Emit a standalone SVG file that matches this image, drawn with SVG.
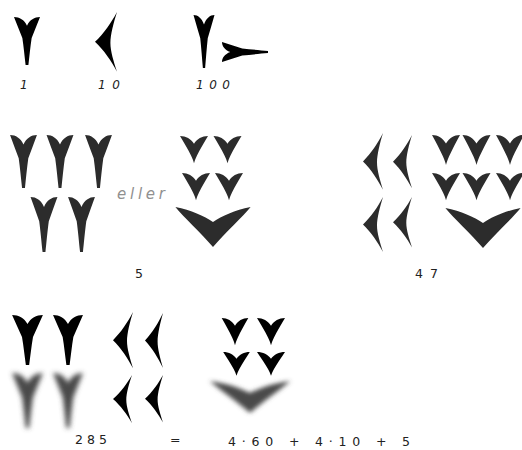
<svg xmlns="http://www.w3.org/2000/svg" xmlns:xlink="http://www.w3.org/1999/xlink" width="522" height="450" viewBox="0 0 522 450">
<style>
.lbl{font-family:"DejaVu Sans","Liberation Sans",sans-serif;font-style:italic;font-size:12px;fill:#222}
.num{font-family:"DejaVu Sans","Liberation Sans",sans-serif;font-size:12.5px;fill:#222}
.eller{font-family:"DejaVu Sans","Liberation Sans",sans-serif;font-style:italic;font-size:15px;fill:#909090}
.k{fill:#000}
.g{fill:#2c2c2c}
.b{fill:#4a4a4a;filter:url(#blur)}
</style>
<defs>
<filter id="blur" x="-30%" y="-30%" width="160%" height="160%"><feGaussianBlur stdDeviation="2.6"/></filter>
<path id="w1" d="M -14,0 C -8,0 -3,3 0,9 C 3,3 8,0 14,0 C 11,7.3 8,14.7 5,22 C 3.6,31 2.5,42 1.5,50 L -1.5,50 C -2.5,42 -3.6,31 -5,22 C -8,14.7 -11,7.3 -14,0 Z"/>
<path id="ws" d="M -14,0 C -8,0 -3,3 0,8 C 3,3 8,0 14,0 C 10,7 6,14 3,20 C 1.5,23 0.5,26 0,28 C -0.5,26 -1.5,23 -3,20 C -6,14 -10,7 -14,0 Z"/>
<path id="w10" d="M 0,0 C -5,10 -12,21 -20,29 C -12,37 -5,48 0,58 C -3,48 -6,38 -6,30 C -6,22 -3,10 0,0 Z"/>
<path id="wv" d="M -38,0 C -22,3 -9,9 0,15 C 9,9 22,3 38,0 C 30,10 12,26 0,40 C -12,26 -30,10 -38,0 Z"/>
</defs>

<g id="sign-1">
<use xlink:href="#w1" class="k" transform="translate(27,17) scale(0.93,0.96)"/>
<text class="lbl" x="20" y="89">1</text>
</g>
<g id="sign-10">
<use xlink:href="#w10" class="k" transform="translate(117,12) scale(1.1,1.03)"/>
<text class="lbl" x="98" y="89" textLength="22" lengthAdjust="spacing">10</text>
</g>
<g id="sign-100">
<use xlink:href="#w1" class="k" transform="translate(204,15) scale(0.75,1.06)"/>
<use xlink:href="#w1" class="k" transform="translate(222,52) rotate(-90) scale(0.72,0.92)"/>
<text class="lbl" x="196" y="89" textLength="34" lengthAdjust="spacing">100</text>
</g>

<g id="five-a">
<use xlink:href="#w1" class="g" transform="translate(23.5,135) scale(0.96,1.06)"/>
<use xlink:href="#w1" class="g" transform="translate(60,135) scale(0.96,1.06)"/>
<use xlink:href="#w1" class="g" transform="translate(98.5,135) scale(0.96,1.06)"/>
<use xlink:href="#w1" class="g" transform="translate(44,197) scale(0.96,1.1)"/>
<use xlink:href="#w1" class="g" transform="translate(81.5,197) scale(0.96,1.1)"/>
</g>
<text id="eller" class="eller" x="117" y="199" textLength="48" lengthAdjust="spacing">eller</text>
<g id="five-b">
<use xlink:href="#ws" class="g" transform="translate(194,136) scale(1,0.97)"/>
<use xlink:href="#ws" class="g" transform="translate(227.5,136) scale(1,0.97)"/>
<use xlink:href="#ws" class="g" transform="translate(196,173) scale(1,0.97)"/>
<use xlink:href="#ws" class="g" transform="translate(229,173) scale(1,0.97)"/>
<use xlink:href="#wv" class="g" transform="translate(213,207) scale(0.99,1)"/>
</g>
<text id="lbl-5" class="num" x="135" y="278">5</text>

<g id="forty-seven">
<use xlink:href="#w10" class="g" transform="translate(383,133) scale(1,0.98)"/>
<use xlink:href="#w10" class="g" transform="translate(412,135) scale(0.95,0.92)"/>
<use xlink:href="#w10" class="g" transform="translate(383,197) scale(1,0.95)"/>
<use xlink:href="#w10" class="g" transform="translate(412,197) scale(0.95,0.87)"/>
<use xlink:href="#ws" class="g" transform="translate(446,135) scale(1,1.07)"/>
<use xlink:href="#ws" class="g" transform="translate(476.5,135) scale(1,1.07)"/>
<use xlink:href="#ws" class="g" transform="translate(510,135) scale(1,1.07)"/>
<use xlink:href="#ws" class="g" transform="translate(446,173) scale(1,0.97)"/>
<use xlink:href="#ws" class="g" transform="translate(476.5,173) scale(1,0.97)"/>
<use xlink:href="#ws" class="g" transform="translate(510,173) scale(1,0.97)"/>
<use xlink:href="#wv" class="g" transform="translate(483,208) scale(0.99,1)"/>
</g>
<text id="lbl-47" class="num" x="415" y="278" textLength="23" lengthAdjust="spacing">47</text>

<g id="two-eighty-five">
<use xlink:href="#w1" class="k" transform="translate(27.5,315) scale(1.1,1)"/>
<use xlink:href="#w1" class="k" transform="translate(68,315) scale(1.07,1)"/>
<use xlink:href="#w1" class="b" transform="translate(27.5,373) scale(1.1,1.1)"/>
<use xlink:href="#w1" class="b" transform="translate(68,373) scale(1.07,1.1)"/>
<use xlink:href="#w10" class="k" transform="translate(133,312) scale(1,0.97)"/>
<use xlink:href="#w10" class="k" transform="translate(163,313) scale(0.9,0.95)"/>
<use xlink:href="#w10" class="k" transform="translate(132,375) scale(0.95,0.83)"/>
<use xlink:href="#w10" class="k" transform="translate(163,375) scale(0.9,0.82)"/>
<use xlink:href="#ws" class="k" transform="translate(235,318) scale(0.95,0.97)"/>
<use xlink:href="#ws" class="k" transform="translate(271,318) scale(1,0.97)"/>
<use xlink:href="#ws" class="k" transform="translate(236.5,352) scale(0.95,0.85)"/>
<use xlink:href="#ws" class="k" transform="translate(271,352) scale(1,0.85)"/>
<use xlink:href="#wv" class="b" transform="translate(250,381) scale(1.05,0.8)"/>
</g>
<g id="equation">
<text class="num" x="75" y="444" textLength="32" lengthAdjust="spacing">285</text>
<text class="num" x="170" y="444">=</text>
<text class="num" x="228" y="446" textLength="182" lengthAdjust="spacing">4·60 + 4·10 + 5</text>
</g>
</svg>
